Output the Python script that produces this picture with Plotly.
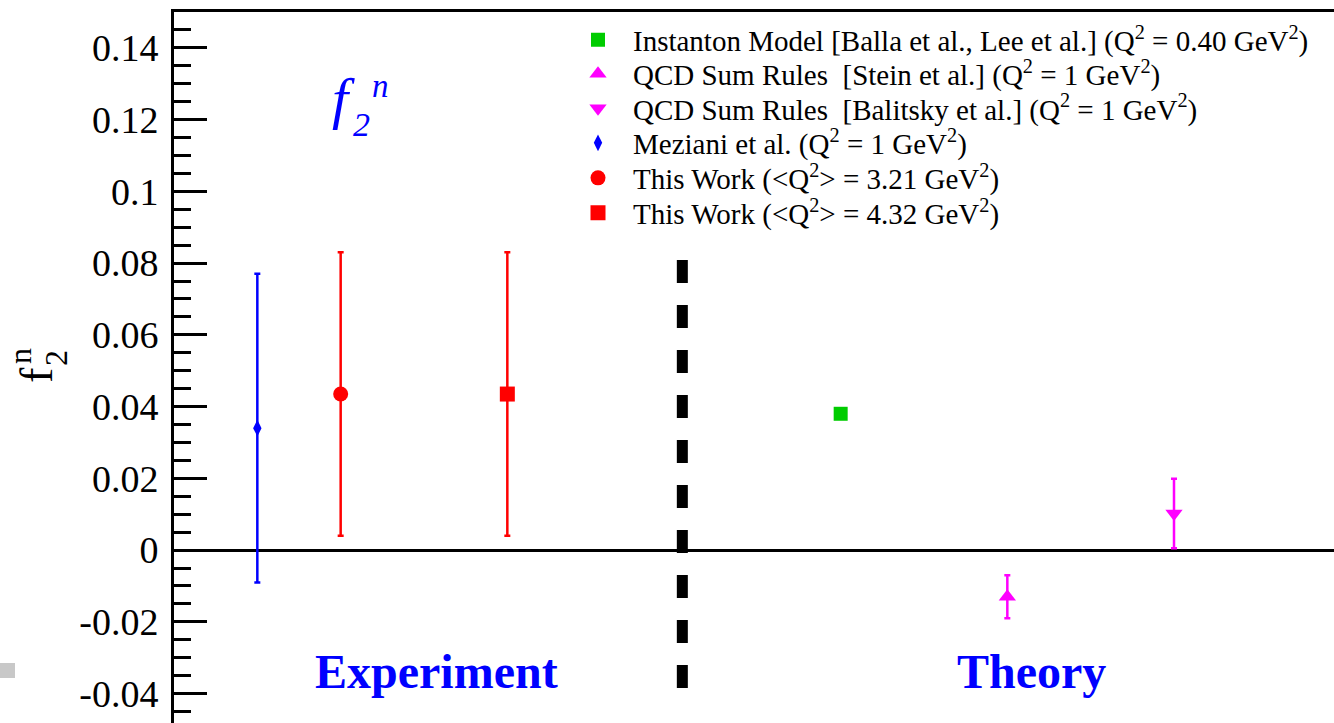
import plotly.graph_objects as go

# ---- data ----
series_names = [
    "Instanton Model [Balla et al., Lee et al.] (Q<sup>2</sup> = 0.40 GeV<sup>2</sup>)",
    "QCD Sum Rules \u00a0[Stein et al.] (Q<sup>2</sup> = 1 GeV<sup>2</sup>)",
    "QCD Sum Rules \u00a0[Balitsky et al.] (Q<sup>2</sup> = 1 GeV<sup>2</sup>)",
    "Meziani et al. (Q<sup>2</sup> = 1 GeV<sup>2</sup>)",
    "This Work (&lt;Q<sup>2</sup>&gt; = 3.21 GeV<sup>2</sup>)",
    "This Work (&lt;Q<sup>2</sup>&gt; = 4.32 GeV<sup>2</sup>)",
]
x_pos = [5.0, 6.0, 7.0, 1.5, 2.0, 3.0]
f2n_values = [0.038, -0.013, 0.0102, 0.034, 0.0435, 0.0435]
f2n_errors = [0.0, 0.006, 0.0097, 0.043, 0.0395, 0.0395]
marker_symbols = ["square", "triangle-up", "triangle-down", "diamond-tall", "circle", "square"]
marker_colors = ["#00cc00", "#ff00ff", "#ff00ff", "#0000ff", "#ff0000", "#ff0000"]
marker_sizes = [14, 15, 15, 12, 15, 15]

ytick_vals = [-0.04, -0.02, 0.0, 0.02, 0.04, 0.06, 0.08, 0.1, 0.12, 0.14]
ytick_text = ["-0.04", "-0.02", "0", "0.02", "0.04", "0.06", "0.08", "0.1", "0.12", "0.14"]

divider_x = 4.05
divider_y = [0.0809, -0.039]

SERIF = "Liberation Serif"

W, H = 1334, 723
L, R, T, B = 174, 0, 12, 0


def px_x(px):
    return (px - L) / (W - L - R)


def px_y(py):
    return (H - B - py) / (H - T - B)


legend_row_px = [40, 74, 108.5, 143, 178, 213]

fig = go.Figure()
legend_layouts = {}
for i, (name, xv, yv, ev, sym, col, sz) in enumerate(zip(series_names, x_pos, f2n_values, f2n_errors,
                                                          marker_symbols, marker_colors, marker_sizes)):
    err = None
    if ev > 0:
        err = dict(type="data", array=[ev], color=col, thickness=2.5, width=3)
    lg = "legend" if i == 0 else f"legend{i + 1}"
    fig.add_trace(go.Scatter(
        x=[xv], y=[yv], mode="markers", name=name, legend=lg,
        marker=dict(symbol=sym, color=col, size=sz, line=dict(width=0)),
        error_y=err,
    ))
    legend_layouts[lg] = dict(
        x=px_x(563), y=px_y(legend_row_px[i]), xanchor="left", yanchor="middle",
        bgcolor="rgba(0,0,0,0)", borderwidth=0,
        font=dict(size=29, family=SERIF, color="black"),
        itemwidth=60,
    )

# dashed divider
fig.add_shape(type="line", xref="x", yref="y", x0=divider_x, x1=divider_x,
              y0=divider_y[0], y1=divider_y[1],
              line=dict(color="black", width=11, dash="23px,22px"))

# grey artifact at left edge
fig.add_shape(type="rect", xref="paper", yref="paper",
              x0=px_x(0), x1=px_x(15), y0=px_y(678), y1=px_y(663),
              fillcolor="#c8c8c8", line=dict(width=0), layer="above")

annotations = [
    # rotated y-axis title f_2^n
    dict(text="f", x=px_x(36), y=px_y(375), font=dict(size=46, family=SERIF, color="black"), textangle=-90),
    dict(text="n", x=px_x(20), y=px_y(356), font=dict(size=32, family=SERIF, color="black"), textangle=-90),
    dict(text="2", x=px_x(56), y=px_y(358), font=dict(size=32, family=SERIF, color="black"), textangle=-90),
    # blue italic f_2^n in plot
    dict(text="f", x=px_x(343), y=px_y(99), font=dict(size=58, family=SERIF, color="#0000ff", style="italic")),
    dict(text="n", x=px_x(380), y=px_y(86), font=dict(size=33, family=SERIF, color="#0000ff", style="italic")),
    dict(text="2", x=px_x(361), y=px_y(125), font=dict(size=34, family=SERIF, color="#0000ff", style="italic")),
    dict(text="Experiment", x=px_x(436), y=px_y(671), font=dict(size=48, family=SERIF, color="#0000ff", weight="bold")),
    dict(text="Theory", x=px_x(1031), y=px_y(671), font=dict(size=48, family=SERIF, color="#0000ff", weight="bold")),
]
for a in annotations:
    a.update(xref="paper", yref="paper", showarrow=False, xanchor="center", yanchor="middle")
    fig.add_annotation(**a)

fig.update_layout(
    width=W, height=H,
    margin=dict(l=L, r=R, t=T, b=B, pad=0),
    paper_bgcolor="white", plot_bgcolor="white",
    font=dict(family=SERIF, color="black"),
    showlegend=True,
    xaxis=dict(
        range=[1.0, 7.96], side="top", showline=True, linewidth=3, linecolor="black",
        showticklabels=False, ticks="", showgrid=False, zeroline=False, fixedrange=True,
    ),
    yaxis=dict(
        range=[-0.0482, 0.15], showline=True, linewidth=3, linecolor="black",
        tickmode="array", tickvals=ytick_vals, ticktext=ytick_text,
        ticks="inside", ticklen=33, tickwidth=2.5, tickcolor="black",
        minor=dict(ticks="inside", ticklen=17, tickwidth=2.5, tickcolor="black", dtick=0.005, tick0=0, showgrid=False),
        tickfont=dict(size=38, family=SERIF, color="black"),
        ticklabelstandoff=5,
        showgrid=False, zeroline=True, zerolinewidth=3, zerolinecolor="black",
    ),
    **legend_layouts,
)

fig.write_html("out.html")
